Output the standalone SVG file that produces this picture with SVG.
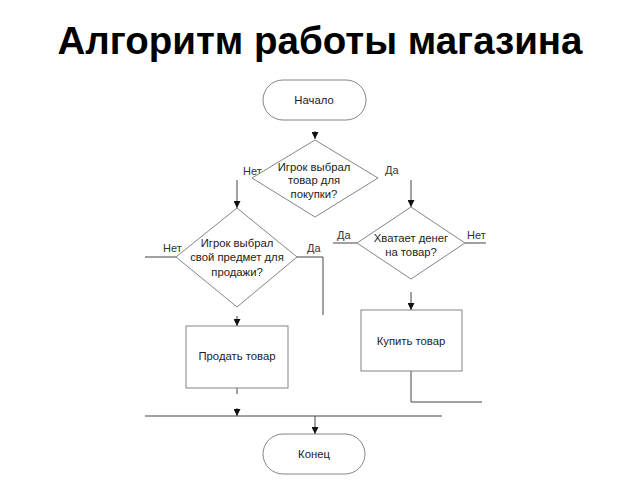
<svg xmlns="http://www.w3.org/2000/svg" width="640" height="480" viewBox="0 0 640 480">
<defs>
<style>
.ln{fill:none;stroke:#444;stroke-width:1}
.sh{fill:#fff;stroke:#777;stroke-width:0.9}
.t{font-family:"Liberation Sans",Arial,sans-serif;font-size:11.3px;fill:#222;text-anchor:middle}
.lb{font-family:"Liberation Sans",Arial,sans-serif;font-size:11px;fill:#333}
.title{font-family:"Liberation Sans",Arial,sans-serif;font-size:38.5px;font-weight:bold;fill:#000;text-anchor:middle}
</style>
<marker id="ah" viewBox="0 0 8 8" refX="8" refY="4" markerWidth="7" markerHeight="7" markerUnits="userSpaceOnUse" orient="auto"><path d="M0,0 L8,4 L0,8 Z" fill="#111"/></marker>
</defs>
<rect width="640" height="480" fill="#fff"/>
<text class="title" x="320" y="54">Алгоритм работы магазина</text>

<g id="connectors">
<line class="ln" x1="315" y1="131" x2="315" y2="139" marker-end="url(#ah)"/>
<line class="ln" x1="237" y1="180" x2="237" y2="208" marker-end="url(#ah)"/>
<line class="ln" x1="411" y1="180" x2="411" y2="207" marker-end="url(#ah)"/>
<polyline class="ln" points="176,257 145,257"/>
<polyline class="ln" points="297,257 323,257 323,315"/>
<polyline class="ln" points="357,243 333,243"/>
<polyline class="ln" points="465,243 486,243"/>
<line class="ln" x1="237" y1="316" x2="237" y2="326" marker-end="url(#ah)"/>
<line class="ln" x1="411" y1="292" x2="411" y2="310" marker-end="url(#ah)"/>
<polyline class="ln" points="411,371 411,402 482,402"/>
<line class="ln" x1="237" y1="388" x2="237" y2="394"/>
<line class="ln" x1="237" y1="408" x2="237" y2="416" marker-end="url(#ah)"/>
<line class="ln" x1="145" y1="416" x2="442" y2="416"/>
<line class="ln" x1="315" y1="416" x2="315" y2="434" marker-end="url(#ah)"/>
<text class="lb" x="243" y="175">Нет</text>
<text class="lb" x="385" y="174">Да</text>
<text class="lb" x="163" y="252">Нет</text>
<text class="lb" x="307" y="252">Да</text>
<text class="lb" x="337" y="239">Да</text>
<text class="lb" x="467" y="239">Нет</text>
</g>

<g id="start">
<rect class="sh" x="263" y="80" width="103" height="40" rx="20"/>
<text class="t" x="314" y="104">Начало</text>
</g>
<g id="d1">
<polygon class="sh" points="315,140 378,178 315,217 252,178"/>
<text class="t" x="314" y="171">Игрок выбрал</text>
<text class="t" x="314" y="184">товар для</text>
<text class="t" x="314" y="198">покупки?</text>
</g>
<g id="d2">
<polygon class="sh" points="237,208 297,257 237,307 176,257"/>
<text class="t" x="237" y="247">Игрок выбрал</text>
<text class="t" x="237" y="261">свой предмет для</text>
<text class="t" x="237" y="276">продажи?</text>
</g>
<g id="d3">
<polygon class="sh" points="411,207 465,243 411,279 357,243"/>
<text class="t" x="411" y="242">Хватает денег</text>
<text class="t" x="411" y="256">на товар?</text>
</g>
<g id="sell">
<rect class="sh" x="186" y="326" width="102" height="62"/>
<text class="t" x="237" y="360">Продать товар</text>
</g>
<g id="buy">
<rect class="sh" x="361" y="310" width="101" height="61"/>
<text class="t" x="411" y="345">Купить товар</text>
</g>
<g id="end">
<rect class="sh" x="263" y="434" width="102" height="40" rx="20"/>
<text class="t" x="314" y="458">Конец</text>
</g>
</svg>
